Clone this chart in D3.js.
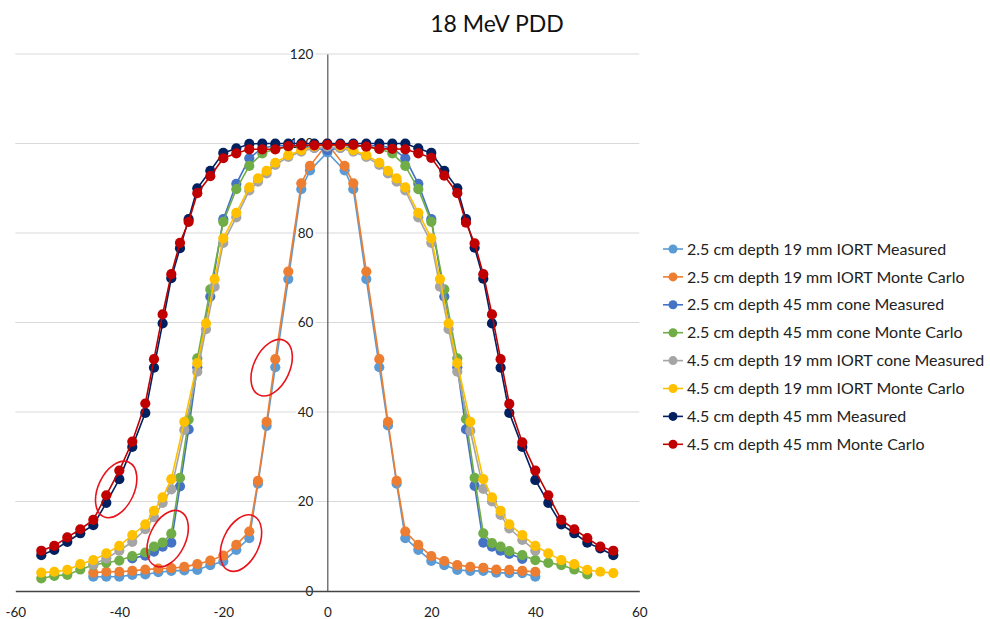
<!DOCTYPE html>
<html>
<head>
<meta charset="utf-8">
<script src="https://cdn.jsdelivr.net/npm/d3@7"></script>
<style>
  body { margin: 0; background: #fff; }
  svg { font-family: Lato, 'Open Sans', sans-serif; }
</style>
</head>
<body>
<div id="chart"></div>
<script>
var title = '18 MeV PDD'
var xTicks = [-60, -40, -20, 0, 20, 40, 60]
var yTicks = [0, 20, 40, 60, 80, 100, 120]

var seriesNames = [
  '2.5 cm depth 19 mm IORT Measured',
  '2.5 cm depth 19 mm IORT Monte Carlo',
  '2.5 cm depth 45 mm cone Measured',
  '2.5 cm depth 45 mm cone Monte Carlo',
  '4.5 cm depth 19 mm IORT cone Measured',
  '4.5 cm depth 19 mm IORT Monte Carlo',
  '4.5 cm depth 45 mm Measured',
  '4.5 cm depth 45 mm Monte Carlo'
]
var seriesColors = ['#5b9bd5', '#ed7d31', '#4472c4', '#70ad47', '#a5a5a5', '#ffc000', '#002060', '#c00000']

// off-axis positions (mm)
var x19Shallow = [-45, -42.5, -40, -37.5, -35, -32.5, -30, -27.5, -25, -22.5, -20, -17.5, -15, -13.33, -11.67, -10, -7.5, -5, -3.33,
  0, 3.33, 5, 7.5, 10, 11.67, 13.33, 15, 17.5, 20, 22.5, 25, 27.5, 30, 32.5, 35, 37.5, 40]
var x45Green = [-55, -52.5, -50, -47.5, -45, -42.5, -40, -37.5, -35, -33.33, -31.67, -30, -28.33, -26.67, -25, -22.5, -20, -17.5, -15, -12.5, -10, -7.5, -5, -2.5,
  0, 2.5, 5, 7.5, 10, 12.5, 15, 17.5, 20, 22.5, 25, 26.67, 28.33, 30, 31.67, 33.33, 35, 37.5, 40, 42.5, 45, 47.5, 50]
var x45Blue = [-37.5, -35, -33.33, -31.67, -30, -28.33, -26.67, -25, -22.5, -20, -17.5, -15, -12.5, -10, -7.5, -5, -2.5,
  0, 2.5, 5, 7.5, 10, 12.5, 15, 17.5, 20, 22.5, 25, 26.67, 28.33, 30, 31.67, 33.33, 35, 37.5]
var x19Deep = [-55, -52.5, -50, -47.5, -45, -42.5, -40, -37.5, -35, -33.33, -31.67, -30, -27.5, -25, -23.33, -21.67, -20, -17.5, -15, -13.33, -11.67, -10, -7.5, -5, -2.5,
  0, 2.5, 5, 7.5, 10, 11.67, 13.33, 15, 17.5, 20, 21.67, 23.33, 25, 27.5, 30, 31.67, 33.33, 35, 37.5, 40, 42.5, 45, 47.5, 50, 52.5, 55]
var x19DeepMeas = [-45, -42.5, -40, -37.5, -35, -33.33, -31.67, -30, -27.5, -25, -23.33, -21.67, -20, -17.5, -15, -13.33, -11.67, -10, -7.5, -5, -2.5,
  0, 2.5, 5, 7.5, 10, 11.67, 13.33, 15, 17.5, 20, 21.67, 23.33, 25, 27.5, 30, 31.67, 33.33, 35, 37.5, 40]
var x45Deep = [-55, -52.5, -50, -47.5, -45, -42.5, -40, -37.5, -35, -33.33, -31.67, -30, -28.33, -26.67, -25, -22.5, -20, -17.5, -15, -12.5, -10, -7.5, -5, -2.5,
  0, 2.5, 5, 7.5, 10, 12.5, 15, 17.5, 20, 22.5, 25, 26.67, 28.33, 30, 31.67, 33.33, 35, 37.5, 40, 42.5, 45, 47.5, 50, 52.5, 55]

// relative dose (%)
var y19ShallowMeas = [3.2, 3.2, 3.2, 3.6, 3.7, 4.2, 4.5, 4.6, 4.7, 5.8, 6.6, 9.2, 11.8, 24.0, 36.9, 50.0, 69.7, 89.8, 94.0,
  98.0, 94.0, 89.8, 69.7, 50.0, 37.0, 24.0, 11.8, 9.2, 6.7, 5.8, 4.7, 4.5, 4.5, 4.1, 4.0, 4.0, 3.2]
var y19ShallowMC = [4.1, 4.3, 4.3, 4.5, 4.8, 5.0, 5.1, 5.4, 6.0, 6.8, 7.9, 10.3, 13.3, 24.6, 37.8, 51.8, 71.4, 91.1, 95.0,
  100, 95.0, 91.1, 71.4, 51.8, 37.8, 24.6, 13.3, 10.3, 7.8, 6.7, 5.8, 5.4, 5.2, 4.8, 4.7, 4.5, 4.3]
var y45ShallowMeas = [7.3, 7.9, 8.8, 9.9, 10.8, 23.4, 36.1, 50.0, 65.8, 83.1, 91.0, 96.7, 99.0, 99.5, 99.5, 99.3, 99.0,
  98.5, 99.0, 99.3, 99.5, 99.5, 99.0, 96.7, 91.0, 83.1, 65.8, 50.0, 36.1, 23.5, 10.8, 9.9, 9.0, 8.3, 7.2]
var y45ShallowMC = [2.8, 3.4, 3.6, 4.8, 5.8, 6.3, 6.8, 7.8, 8.6, 9.9, 10.8, 12.8, 25.3, 38.3, 52.0, 67.4, 82.5, 89.8, 95.0, 97.8, 98.8, 99.3, 99.5, 99.6,
  99.6, 99.6, 99.5, 99.3, 98.8, 97.8, 95.0, 89.8, 82.5, 67.4, 52.0, 38.4, 25.3, 12.9, 10.7, 9.9, 8.9, 8.0, 6.9, 6.3, 5.8, 4.8, 3.7]
var y19DeepMeas = [5.9, 7.3, 9.0, 11.0, 13.8, 16.5, 19.7, 22.7, 36.0, 49.0, 58.5, 68.0, 77.8, 83.5, 89.5, 91.5, 93.3, 95.2, 97.0, 98.2, 99.0,
  99.3, 99.0, 98.2, 97.0, 95.2, 93.3, 91.5, 89.5, 83.5, 77.8, 68.0, 58.5, 49.0, 35.8, 22.8, 20.0, 17.0, 14.0, 11.4, 9.0]
var y19DeepMC = [4.1, 4.3, 4.7, 6.0, 6.9, 8.4, 10.1, 12.5, 14.9, 17.9, 20.9, 25.0, 37.8, 50.9, 59.8, 69.7, 78.8, 84.5, 90.2, 92.2, 93.9, 95.7, 97.4, 98.5, 99.4,
  99.8, 99.4, 98.5, 97.4, 95.7, 93.9, 92.2, 90.2, 84.5, 78.8, 69.7, 59.8, 50.9, 37.8, 25.0, 20.9, 17.9, 14.9, 12.5, 10.1, 8.4, 6.9, 6.0, 4.7, 4.3, 4.0]
var y45DeepMeas = [8.0, 9.2, 11.0, 12.9, 14.7, 19.7, 25.0, 32.2, 39.8, 49.9, 59.8, 69.9, 76.6, 83.1, 90.0, 93.9, 97.9, 98.9, 99.9, 100, 100, 100, 100, 100,
  100, 100, 100, 100, 100, 100, 100, 98.9, 97.9, 93.9, 90.0, 83.1, 76.7, 69.8, 59.8, 49.9, 39.8, 32.2, 24.8, 19.7, 14.9, 12.9, 10.8, 9.5, 8.0]
var y45DeepMC = [9.0, 10.1, 12.0, 13.8, 15.9, 21.4, 26.9, 33.4, 41.9, 51.8, 61.8, 70.8, 77.8, 82.5, 88.9, 92.7, 96.7, 97.8, 98.7, 98.7, 98.7, 99.4, 99.6, 99.6,
  99.7, 99.7, 99.7, 99.3, 98.8, 98.8, 98.7, 97.8, 96.8, 92.8, 88.9, 82.3, 77.7, 70.8, 61.8, 51.8, 41.8, 33.2, 26.9, 21.4, 15.9, 13.8, 11.8, 9.9, 9.0]

// hand-drawn red rings (centre in data units)
var ringX = [-40.6, -30.7, -16.6, -10.7]
var ringY = [22.7, 11.7, 10.7, 49.9]

var seriesX = [x19Shallow, x19Shallow, x45Blue, x45Green, x19DeepMeas, x19Deep, x45Deep, x45Deep]
var seriesY = [y19ShallowMeas, y19ShallowMC, y45ShallowMeas, y45ShallowMC, y19DeepMeas, y19DeepMC, y45DeepMeas, y45DeepMC]

drawChart()

function drawChart() {
  var width = 990
  var height = 619

  var svg = d3.select('#chart')
    .append('svg')
    .attr('width', width)
    .attr('height', height)

  var x = d3.scaleLinear().domain([-60, 60]).range([15.3, 639.3])
  var y = d3.scaleLinear().domain([0, 120]).range([591, 54])

  // title
  svg.append('text')
    .attr('x', 497)
    .attr('y', 32)
    .attr('text-anchor', 'middle')
    .attr('font-size', 23)
    .attr('fill', '#111')
    .text(title)

  // gridlines
  svg.append('g')
    .selectAll('line')
    .data(yTicks.filter(d => d > 0))
    .join('line')
    .attr('x1', x(-60))
    .attr('x2', x(60))
    .attr('y1', d => y(d))
    .attr('y2', d => y(d))
    .attr('stroke', '#d9d9d9')
    .attr('stroke-width', 1.2)

  // y axis sits on x = 0
  var yAxis = d3.axisLeft(y).tickValues(yTicks).tickFormat(d => String(d)).tickSize(0).tickPadding(14)
  var gy = svg.append('g')
    .attr('transform', 'translate(' + x(0) + ',0)')
    .call(yAxis)
  gy.select('.domain').attr('stroke', '#555').attr('stroke-width', 1.2)
  gy.selectAll('text')
    .attr('font-size', 13.5)
    .attr('font-family', 'Lato, sans-serif')
    .attr('fill', '#222')
    .attr('stroke', '#fff')
    .attr('stroke-width', 4)
    .attr('paint-order', 'stroke')

  var xAxis = d3.axisBottom(x).tickValues(xTicks).tickFormat(d => String(d)).tickSize(0).tickPadding(16)
  var gx = svg.append('g')
    .attr('transform', 'translate(0,' + y(0) + ')')
    .call(xAxis)
  gx.select('.domain').attr('stroke', '#444').attr('stroke-width', 1.6)
  gx.selectAll('text')
    .attr('font-size', 13.5)
    .attr('font-family', 'Lato, sans-serif')
    .attr('fill', '#222')

  // series
  var line = d3.line().x(d => x(d[0])).y(d => y(d[1]))
  seriesNames.forEach(function (name, i) {
    var pts = seriesX[i].map((v, j) => [v, seriesY[i][j]])
    var g = svg.append('g')
    g.append('path')
      .datum(pts)
      .attr('d', line)
      .attr('fill', 'none')
      .attr('stroke', seriesColors[i])
      .attr('stroke-width', 1.6)
    g.selectAll('circle')
      .data(pts)
      .join('circle')
      .attr('cx', d => x(d[0]))
      .attr('cy', d => y(d[1]))
      .attr('r', 5.1)
      .attr('fill', seriesColors[i])
  })

  // annotation rings
  svg.append('g')
    .selectAll('ellipse')
    .data(ringX)
    .join('ellipse')
    .attr('transform', (d, i) => 'translate(' + x(d) + ',' + y(ringY[i]) + ') rotate(25)')
    .attr('rx', 18)
    .attr('ry', 30)
    .attr('fill', 'none')
    .attr('stroke', '#e8141b')
    .attr('stroke-width', 1.6)

  // legend
  var legend = svg.append('g').attr('transform', 'translate(663,249)')
  var item = legend.selectAll('g')
    .data(seriesNames)
    .join('g')
    .attr('transform', (d, i) => 'translate(0,' + (i * 27.9) + ')')
  item.append('line')
    .attr('x1', 0).attr('x2', 20)
    .attr('stroke', (d, i) => seriesColors[i])
    .attr('stroke-width', 1.6)
  item.append('circle')
    .attr('cx', 10)
    .attr('r', 4.5)
    .attr('fill', (d, i) => seriesColors[i])
  item.append('text')
    .attr('x', 24)
    .attr('dy', '0.35em')
    .attr('font-size', 16)
    .attr('fill', '#222')
    .text(d => d)
}
</script>
</body>
</html>
